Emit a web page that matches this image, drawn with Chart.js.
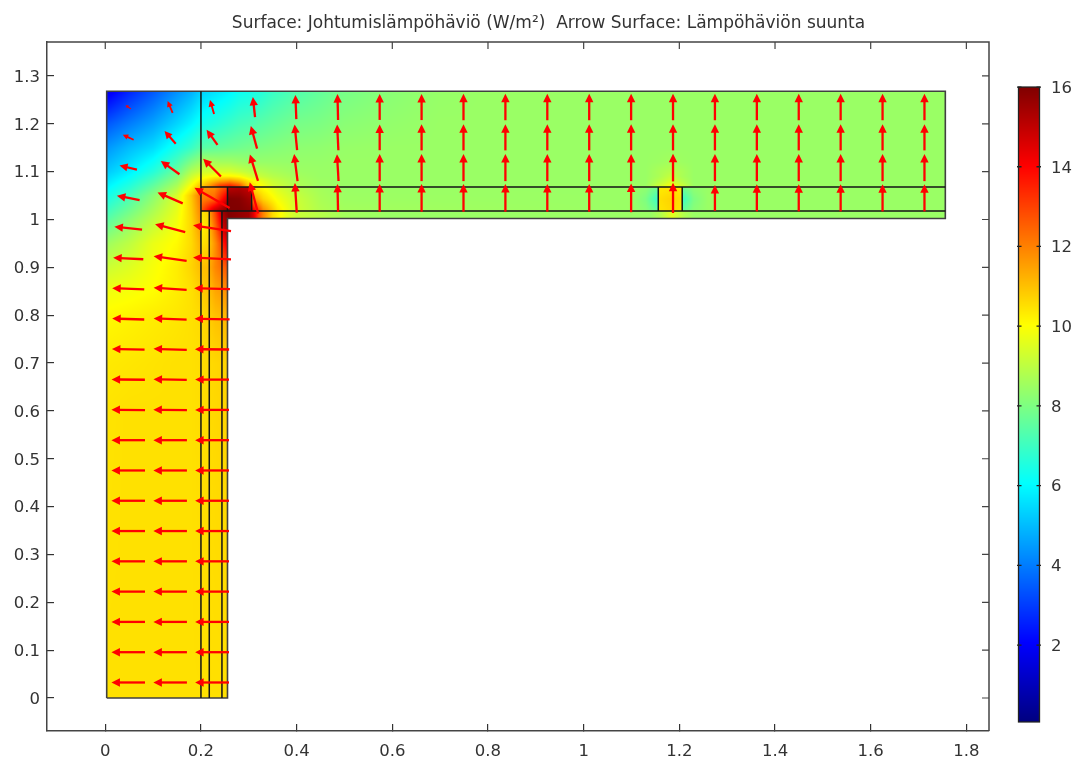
<!DOCTYPE html>
<html><head><meta charset="utf-8">
<style>html,body{margin:0;padding:0;background:#fff}#wrap{width:1077px;height:762px;position:relative}canvas{filter:blur(0.4px)}</style>
<script src="https://cdn.jsdelivr.net/npm/chart.js@4"></script>
</head><body><div id="wrap"><canvas id="c" width="1077" height="762"></canvas></div>
<script>
const titleText = "Surface: Johtumislämpöhäviö (W/m²)  Arrow Surface: Lämpöhäviön suunta";
const xTicks = [0,0.2,0.4,0.6,0.8,1,1.2,1.4,1.6,1.8];
const yTicks = [0,0.1,0.2,0.3,0.4,0.5,0.6,0.7,0.8,0.9,1,1.1,1.2,1.3];
const colorbarTicks = [2,4,6,8,10,12,14,16];
const colorMin = 0.07, colorMax = 16;

// Heat-loss values (W/m²), by zone. Rows run bottom to top.
const leftXs = [0.003,0.05,0.1,0.15,0.18,0.2];
const leftYs = [0,0.6,0.7,0.8,0.85,0.9,0.95,1.0,1.05,1.1,1.15,1.2,1.268];
const leftValues = [
 [10.5,10.5,10.5,10.5,10.5,10.5],
 [10.45,10.5,10.5,10.5,10.5,10.55],
 [10.35,10.4,10.45,10.5,10.5,10.55],
 [10.1,10.2,10.3,10.4,10.5,10.6],
 [9.8,9.9,10.05,10.3,10.5,10.8],
 [9.2,9.5,9.9,10.3,10.7,11.1],
 [8.5,9,9.7,10.1,10.6,11.3],
 [7.4,8.2,9,9.8,10.7,11.8],
 [6.3,7.1,8.2,9.4,10.9,12.3],
 [5.2,5.8,6.6,7.7,8.8,9.2],
 [4.4,5,5.5,6.4,6.9,7.4],
 [3.4,4,4.6,5.4,5.9,6.3],
 [1.7,2.6,3.4,4.3,4.8,5.3]
];
const layerXs = [0.2,0.2175,0.2175,0.23,0.244,0.244,0.256];
const layerYs = [0,0.7,0.8,0.85,0.9,0.95,0.98,1.018];
const layerValues = [
 [10.5,10.5,10.5,10.5,10.5,10.5,10.5],
 [10.55,10.6,10.6,10.65,10.7,10.7,10.7],
 [10.6,10.8,10.8,11,11.1,11.1,11.2],
 [10.8,11,11,11.4,11.6,11.6,11.8],
 [11,11.1,11.3,11.9,12.3,12.4,12.8],
 [10.4,10.7,10.9,11.8,13,13.4,14.5],
 [10.2,10.6,11,12.3,14,14.5,15.5],
 [10.4,10.8,11.5,13,15,15.5,16]
];
const cornerXs = [0.2,0.228,0.256];
const cornerYs = [1.018,1.043,1.068];
const cornerValues = [
 [12.6,15,16],
 [11.9,12.4,14.8],
 [11.6,11.8,13]
];
const blockXs = [0.256,0.28,0.305];
const blockYs = [1.018,1.043,1.068];
const blockValues = [
 [16,16,15.8],
 [16,15.9,15.4],
 [15,15.2,14.8]
];
const wallXs = [0.305,0.33,0.36,0.4,0.45,0.5,1.1,1.13,1.156,1.156,1.181,1.206,1.206,1.23,1.26,1.756];
const wallYs = [1.018,1.043,1.068];
const wallValues = [
 [15,12,10.4,9.3,8.8,8.6,8.45,8.2,7.6,10.4,10.6,10.4,7.6,8.2,8.45,8.45],
 [12,10.7,9.9,9.2,8.7,8.5,8.45,8,6.9,10.5,10.7,10.5,6.9,8,8.45,8.45],
 [10.4,10,9.4,8.9,8.6,8.45,8.45,8.3,7.8,10.3,10.4,10.3,7.8,8.3,8.45,8.45]
];
const stripXs = [0.256,0.3,0.31,0.32,0.33,0.35,0.38,0.4,0.45,0.5,0.6,1.14,1.16,1.185,1.21,1.23,1.756];
const stripYs = [1.002,1.018];
const stripValues = [
 [16,15.5,14.5,13,12,10.6,9.6,9.2,8.9,8.6,8.45,8.45,8.8,9.6,8.8,8.45,8.45],
 [16,15.5,14.5,13,12,10.6,9.6,9.2,8.9,8.6,8.45,8.45,8.8,9.6,8.8,8.45,8.45]
];
const topXs = [0.2,0.22,0.24,0.26,0.28,0.3,0.32,0.35,0.4,0.45,0.5,0.6,0.7,0.8,1.13,1.156,1.181,1.206,1.23,1.756];
const topYs = [1.068,1.08,1.09,1.1,1.12,1.15,1.2,1.268];
const topValues = [
 [10.8,12,13.5,14,13.2,11,10.2,9.4,8.8,8.5,8.45,8.45,8.45,8.45,8.5,9.3,10,9.3,8.5,8.45],
 [10.3,10.9,11.5,11.8,11.3,10.4,9.8,9.2,8.7,8.5,8.45,8.45,8.45,8.45,8.45,8.9,9.4,8.9,8.45,8.45],
 [9.7,10,10.2,10.2,10,9.5,9.2,8.9,8.6,8.45,8.45,8.45,8.45,8.45,8.45,8.7,9.1,8.7,8.45,8.45],
 [9.3,9.3,9.4,9.4,9.2,9,8.9,8.7,8.5,8.45,8.45,8.45,8.45,8.45,8.45,8.7,8.9,8.7,8.45,8.45],
 [8.8,8.7,8.6,8.6,8.5,8.4,8.4,8.4,8.4,8.4,8.45,8.45,8.45,8.45,8.45,8.5,8.6,8.5,8.45,8.45],
 [7.4,7.5,7.6,7.7,7.8,7.9,8,8.1,8.25,8.3,8.4,8.45,8.45,8.45,8.45,8.45,8.45,8.45,8.45,8.45],
 [6.3,6.5,6.7,6.9,7.1,7.2,7.4,7.6,7.9,8,8.2,8.35,8.45,8.45,8.45,8.45,8.45,8.45,8.45,8.45],
 [5.3,5.5,5.7,5.9,6.2,6.3,6.5,6.9,7.3,7.6,7.9,8.2,8.4,8.45,8.45,8.45,8.45,8.45,8.45,8.45]
];

// Geometry edges; null breaks a polyline.
const outlineXs = [0.003,0.2555,0.2555,1.756,1.756,0.003,0.003];
const outlineYs = [0,0,1.002,1.002,1.268,1.268,0];
const edgeXs = [0.2,0.2,null,0.2174,0.2174,null,0.2439,0.2439,null,0.2,1.756,null,0.2,1.756,null,0.2555,0.2555,null,0.306,0.306,null,1.156,1.156,null,1.206,1.206];
const edgeYs = [0,1.268,null,0,1.018,null,0,1.018,null,1.018,1.018,null,1.068,1.068,null,1.018,1.068,null,1.018,1.068,null,1.018,1.068,null,1.018,1.068];

// Heat-flow arrows: centres and flux components (W/m²), rows bottom to top.
const arrowXs = [0.048,0.1356,0.2232,0.3108,0.3984,0.486,0.5736,0.6612,0.7488,0.8364,0.924,1.0116,1.0992,1.1868,1.2744,1.362,1.4496,1.5372,1.6248,1.7124];
const arrowYs = [0.0324,0.0957,0.159,0.2223,0.2856,0.3489,0.4122,0.4755,0.5388,0.6021,0.6654,0.7287,0.792,0.8553,0.9186,0.9819,1.0452,1.1085,1.1718,1.2351];
const arrowQx = [
 [-10.8,-10.8,-10.9],[-10.8,-10.8,-10.9],[-10.8,-10.8,-10.9],[-10.8,-10.8,-10.9],[-10.8,-10.8,-10.9],
 [-10.8,-10.8,-10.9],[-10.8,-10.8,-10.9],[-10.8,-10.8,-10.9],[-10.8,-10.8,-10.9],[-10.8,-10.8,-10.9],
 [-10.7,-10.7,-10.9],[-10.5,-10.7,-11],[-10.3,-10.6,-11.3],[-10.3,-10.6,-11.5],[-9.7,-10.6,-12.2],[-8.9,-9.7,-12.2],
 [-7.3,-8.1,-11.3,-2.7,-0.6,-0.2,0,0,0,0,0,0,0,0,0,0,0,0,0,0],
 [-5.6,-6,-5.7,-2.6,-1.1,-0.5,0,0,0,0,0,0,0,0,0,0,0,0,0,0],
 [-3.5,-3.6,-3.5,-2,-0.8,-0.4,0,0,0,0,0,0,0,0,0,0,0,0,0,0],
 [-1.7,-1.6,-1.3,-0.7,-0.3,-0.2,0,0,0,0,0,0,0,0,0,0,0,0,0,0]
];
const arrowQy = [
 [0,0,0],[0,0,0],[0,0,0],[0,0,0],[0,0,0],
 [0,0,0],[0,0,0],[0,0,0],[0,0,0],[0.1,0.1,0],
 [0.1,0.2,0],[0.2,0.3,0.1],[0.3,0.4,0.2],[0.4,0.7,0.3],[0.5,1.5,0.6],[0.9,2.6,1.9],
 [1.4,3.5,6.5,10,9.5,9,8.9,8.9,8.9,8.9,8.9,8.9,9.2,9.7,8.3,8.7,8.7,8.7,8.7,8.7],
 [1.3,4.3,5.7,8.5,8.7,8.6,8.7,8.7,8.7,8.7,8.7,8.7,8.7,8.9,8.7,8.7,8.7,8.7,8.7,8.7],
 [1.6,4.1,4.9,7.3,8.3,8.3,8.3,8.4,8.4,8.4,8.4,8.4,8.4,8.4,8.4,8.4,8.4,8.4,8.4,8.4],
 [1.2,3.8,4.5,6.5,7.8,8.3,8.3,8.4,8.5,8.5,8.5,8.5,8.5,8.5,8.5,8.5,8.5,8.5,8.5,8.5]
];
const arrowScale = 0.0065; // axis units per W/m²

function flatten(xs, ys, vals){
  const out = [];
  ys.forEach((y,j)=>xs.forEach((x,i)=>out.push({x, y, v: vals[j][i]})));
  return out;
}
function fieldDataset(label, xs, ys, vals){
  return {label, data: flatten(xs,ys,vals), grid:{xs,ys,vals}, isField:true, pointRadius:0, showLine:false, xAxisID:'x', yAxisID:'y'};
}
const arrowData = [];
arrowYs.forEach((y,j)=>arrowQx[j].forEach((qx,i)=>arrowData.push({x:arrowXs[i], y, qx, qy:arrowQy[j][i]})));

function jet(v){
  const t = Math.max(0, Math.min(1, (v-colorMin)/(colorMax-colorMin)));
  const c = a => Math.round(255*Math.max(0, Math.min(1, 1.5-Math.abs(4*t-a))));
  return [c(3), c(2), c(1)];
}
function bracket(a, p){
  for (let k=0;k<a.length-1;k++){
    if (p<=a[k+1] && a[k+1]>a[k]) return [k,(p-a[k])/(a[k+1]-a[k])];
  }
  return [a.length-2,1];
}
function sample(g,x,y){
  if (x<g.xs[0]||x>g.xs[g.xs.length-1]||y<g.ys[0]||y>g.ys[g.ys.length-1]) return null;
  const [i,u]=bracket(g.xs,x), [j,w]=bracket(g.ys,y);
  const r0=g.vals[j], r1=g.vals[j+1];
  return (r0[i]*(1-u)+r0[i+1]*u)*(1-w)+(r1[i]*(1-u)+r1[i+1]*u)*w;
}

const layoutPlugin = {
  id:'titleShift',
  afterLayout(chart){ chart.titleBlock.left = 20; }
};
const fieldPlugin = {
  id:'field',
  beforeDatasetsDraw(chart){
    const {ctx, chartArea:a, scales:{x:sx,y:sy}} = chart;
    const grids = chart.data.datasets.filter(d=>d.isField).map(d=>d.grid);
    const w=Math.ceil(a.right-a.left), h=Math.ceil(a.bottom-a.top);
    const off=document.createElement('canvas'); off.width=w; off.height=h;
    const oc=off.getContext('2d'); const img=oc.createImageData(w,h);
    for(let py=0;py<h;py++){
      const y=sy.getValueForPixel(a.top+py+0.5);
      for(let px=0;px<w;px++){
        const x=sx.getValueForPixel(a.left+px+0.5);
        let v=null;
        for(const g of grids){ v=sample(g,x,y); if(v!==null) break; }
        if(v===null) continue;
        const c=jet(v), o=(py*w+px)*4;
        img.data[o]=c[0]; img.data[o+1]=c[1]; img.data[o+2]=c[2]; img.data[o+3]=255;
      }
    }
    oc.putImageData(img,0,0);
    ctx.drawImage(off,a.left,a.top);
  }
};
const arrowPlugin = {
  id:'arrows',
  afterDatasetsDraw(chart){
    const {ctx, scales:{x:sx,y:sy}} = chart;
    const ds = chart.data.datasets.find(d=>d.isArrows);
    ctx.save();
    ctx.strokeStyle='#ff0000'; ctx.fillStyle='#ff0000';
    for(const p of ds.data){
      const hx=p.qx*arrowScale/2, hy=p.qy*arrowScale/2;
      const x0=sx.getPixelForValue(p.x-hx), y0=sy.getPixelForValue(p.y-hy);
      const x1=sx.getPixelForValue(p.x+hx), y1=sy.getPixelForValue(p.y+hy);
      const L=Math.hypot(x1-x0,y1-y0); if(L<1) continue;
      const ux=(x1-x0)/L, uy=(y1-y0)/L;
      const hl=Math.min(8.5,L*0.45), hw=3.8*hl/8.5+0.4;
      ctx.lineWidth=Math.min(2.3,0.6+L*0.09);
      ctx.beginPath(); ctx.moveTo(x0,y0); ctx.lineTo(x1-ux*hl*0.8,y1-uy*hl*0.8); ctx.stroke();
      ctx.beginPath(); ctx.moveTo(x1,y1);
      ctx.lineTo(x1-ux*hl-uy*hw,y1-uy*hl+ux*hw);
      ctx.lineTo(x1-ux*hl+uy*hw,y1-uy*hl-ux*hw);
      ctx.closePath(); ctx.fill();
    }
    ctx.restore();
  }
};
const framePlugin = {
  id:'frame',
  afterDraw(chart){
    const {ctx, chartArea:a, scales:{x:sx,y:sy,y2}} = chart;
    ctx.save();
    ctx.strokeStyle='#444'; ctx.lineWidth=1.5;
    ctx.beginPath(); ctx.moveTo(a.left,a.top); ctx.lineTo(a.right,a.top); ctx.lineTo(a.right,a.bottom); ctx.stroke();
    ctx.lineWidth=1.2;
    ctx.beginPath();
    sx.ticks.forEach(t=>{const p=sx.getPixelForValue(t.value); ctx.moveTo(p,a.top); ctx.lineTo(p,a.top+7);});
    sy.ticks.forEach(t=>{const p=sy.getPixelForValue(t.value); ctx.moveTo(a.right,p); ctx.lineTo(a.right-7,p);});
    ctx.stroke();
    // colour bar drawn on the y2 scale
    const L=1018.5,R=1039.5;
    const top=y2.getPixelForValue(colorMax), bot=y2.getPixelForValue(colorMin);
    for(let p=Math.floor(top);p<Math.ceil(bot);p++){
      const c=jet(y2.getValueForPixel(p+0.5));
      ctx.fillStyle=`rgb(${c[0]},${c[1]},${c[2]})`;
      ctx.fillRect(L,p,R-L,1);
    }
    ctx.strokeStyle='#222'; ctx.lineWidth=1.3;
    ctx.strokeRect(L,top,R-L,bot-top);
    ctx.beginPath();
    y2.ticks.forEach(t=>{const p=y2.getPixelForValue(t.value); ctx.moveTo(L-1.5,p); ctx.lineTo(L+3,p); ctx.moveTo(R-3,p); ctx.lineTo(R+1.5,p);});
    ctx.stroke();
    ctx.restore();
  }
};
const axisColor='#444', textColor='#333', tickFont={family:'"DejaVu Sans"',size:16.5};
function fixBox(s, key, size){
  s[key]=size;
  s.paddingTop=s.paddingBottom=s.paddingLeft=s.paddingRight=0;
}

new Chart(document.getElementById('c'),{
  type:'scatter',
  data:{datasets:[
    fieldDataset('Left block',leftXs,leftYs,leftValues),
    fieldDataset('Layers',layerXs,layerYs,layerValues),
    fieldDataset('Corner',cornerXs,cornerYs,cornerValues),
    fieldDataset('Block',blockXs,blockYs,blockValues),
    fieldDataset('Wall',wallXs,wallYs,wallValues),
    fieldDataset('Strip',stripXs,stripYs,stripValues),
    fieldDataset('Top',topXs,topYs,topValues),
    {label:'Edges',data:edgeXs.map((x,i)=>({x,y:edgeYs[i]})),showLine:true,spanGaps:false,pointRadius:0,borderColor:'#151515',borderWidth:1.5,tension:0},
    {label:'Outline',data:outlineXs.map((x,i)=>({x,y:outlineYs[i]})),showLine:true,pointRadius:0,borderColor:'#404040',borderWidth:1.6,tension:0},
    {label:'Lämpöhäviön suunta',data:arrowData,isArrows:true,pointRadius:0,showLine:false}
  ]},
  options:{
    responsive:false,animation:false,
    layout:{padding:0},
    plugins:{
      legend:{display:false},tooltip:{enabled:false},
      title:{display:true,text:titleText,color:'#333',font:{family:'"DejaVu Sans"',size:17,weight:'normal',lineHeight:1.2},padding:{top:13,bottom:8.6}}
    },
    scales:{
      x:{type:'linear',position:'bottom',min:-0.1218,max:1.8473,
        afterBuildTicks(s){s.ticks=xTicks.map(value=>({value}));},
        afterFit(s){fixBox(s,'height',31);},
        border:{display:true,color:axisColor,width:1.5},
        grid:{drawOnChartArea:false,drawTicks:true,tickLength:-7,color:'#333',lineWidth:1.2},
        ticks:{color:textColor,font:tickFont,padding:18,maxRotation:0,autoSkip:false,callback:v=>String(v)}},
      y:{type:'linear',position:'left',min:-0.069,max:1.371,
        afterBuildTicks(s){s.ticks=yTicks.map(value=>({value}));},
        afterFit(s){fixBox(s,'width',47);},
        border:{display:true,color:axisColor,width:1.5},
        grid:{drawOnChartArea:false,drawTicks:true,tickLength:-7,color:'#333',lineWidth:1.2},
        ticks:{color:textColor,font:tickFont,padding:14,labelOffset:1.5,autoSkip:false,callback:v=>String(v)}},
      y2:{type:'linear',position:'right',min:-0.157,max:17.13,
        afterBuildTicks(s){s.ticks=colorbarTicks.map(value=>({value}));},
        afterFit(s){fixBox(s,'width',88);},
        border:{display:false},
        grid:{display:false,drawTicks:false},
        ticks:{color:textColor,font:tickFont,padding:62,labelOffset:1.5,autoSkip:false,callback:v=>String(v)}}
    }
  },
  plugins:[layoutPlugin,fieldPlugin,arrowPlugin,framePlugin]
});
</script></body></html>
